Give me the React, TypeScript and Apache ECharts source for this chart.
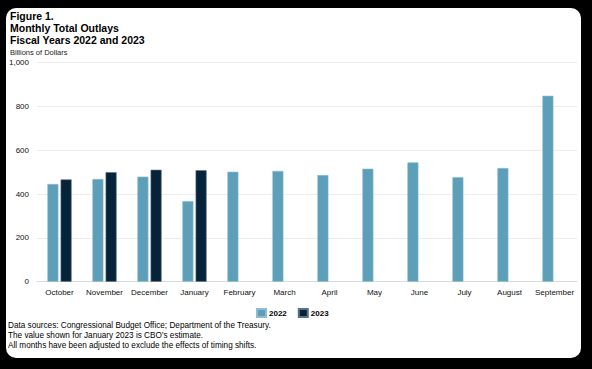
import React, { useEffect, useRef } from "react";
import * as echarts from "echarts";

const categories = ["October", "November", "December", "January", "February", "March", "April", "May", "June", "July", "August", "September"];
const values2022 = [446, 469, 480, 368, 502, 506, 487, 516, 545, 477, 519, 849];
const values2023: (number | null)[] = [467, 500, 511, 509, null, null, null, null, null, null, null, null];
const titleLines = ["Figure 1.", "Monthly Total Outlays", "Fiscal Years 2022 and 2023"];
const unitLabel = "Billions of Dollars";
const notes = [
  "Data sources: Congressional Budget Office; Department of the Treasury.",
  "The value shown for January 2023 is CBO\u2019s estimate.",
  "All months have been adjusted to exclude the effects of timing shifts.",
];

const FONT = "Liberation Sans, Arial, sans-serif";

export default function App() {
  const ref = useRef<HTMLDivElement>(null);
  useEffect(() => {
    document.body.style.margin = "0";
    const chart = echarts.init(ref.current!, null, { renderer: "svg" });
    chart.setOption({
      animation: false,
      backgroundColor: "#000",
      textStyle: { fontFamily: FONT },
      graphic: [
        { type: "rect", shape: { x: 6, y: 8, width: 575, height: 350, r: 10 }, style: { fill: "#fff" }, z: -10 },
        ...titleLines.map((t, i) => ({
          type: "text", left: 10, top: 10 + i * 12,
          style: { text: t, font: `bold 10.5px ${FONT}`, fill: "#000" },
        })),
        { type: "text", left: 10, top: 48, style: { text: unitLabel, font: `7.5px ${FONT}`, fill: "#222" } },
        ...notes.map((t, i) => ({
          type: "text", left: 8, top: 321 + i * 10,
          style: { text: t, font: `8.2px ${FONT}`, fill: "#000" },
        })),
      ],
      legend: {
        left: 256, top: 308, itemWidth: 9, itemHeight: 8, itemGap: 11, padding: 0,
        icon: "rect",
        textStyle: { fontSize: 8, fontWeight: "bold", color: "#000", fontFamily: FONT, padding: [0, 0, 0, -2] },
        data: ["2022", "2023"],
      },
      grid: { left: 37, right: 15, top: 62.7, bottom: 87.3, containLabel: false },
      xAxis: {
        type: "category", data: categories,
        axisLine: { lineStyle: { color: "#d5dde4" } },
        axisTick: { show: false },
        axisLabel: { fontSize: 8, color: "#111", margin: 7, fontFamily: FONT, interval: 0 },
      },
      yAxis: {
        type: "value", min: 0, max: 1000, interval: 200,
        axisLine: { show: false }, axisTick: { show: false },
        splitLine: { lineStyle: { color: "#ececec" } },
        axisLabel: {
          fontSize: 8, color: "#111", margin: 8, fontFamily: FONT,
          formatter: (v: number) => v.toLocaleString("en-US"),
        },
      },
      series: [
        {
          name: "2022", type: "bar", data: values2022, barWidth: 11, barGap: "20%",
          itemStyle: { color: "#5d9eb9", borderColor: "#8cbdd0", borderWidth: 0.6 },
        },
        {
          name: "2023", type: "bar", data: values2023, barWidth: 11,
          itemStyle: { color: "#06233a", borderColor: "#5a7385", borderWidth: 0.6 },
        },
      ],
    });
    return () => chart.dispose();
  }, []);
  return <div ref={ref} style={{ width: 592, height: 369 }} />;
}
